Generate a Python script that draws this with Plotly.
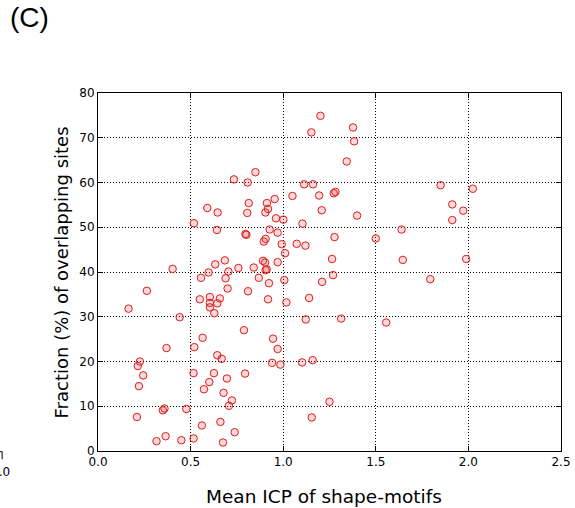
import plotly.graph_objects as go

# Mean ICP of shape-motifs per dataset, and fraction (%) of overlapping sites
mean_icp = [
    1.201, 1.377, 1.152, 1.383, 1.343, 0.850, 1.113, 1.161, 1.050, 1.194,
    1.273, 1.282, 0.954, 0.912, 0.918, 0.904, 1.208, 1.399, 0.734, 0.808,
    0.590, 0.646, 0.814, 0.806, 1.850, 2.024, 1.913, 1.972, 1.913, 1.639,
    1.646, 1.988, 1.794, 0.961, 1.001, 1.104, 0.927, 0.970, 1.277, 1.500,
    0.905, 0.895, 0.992, 1.073, 1.120, 1.010, 1.264, 0.891, 0.902, 0.970,
    0.841, 0.911, 0.905, 1.269, 1.210, 0.868, 1.006, 0.923, 1.140, 0.918,
    1.017, 1.122, 1.313, 1.556, 0.945, 0.518, 0.642, 0.796, 0.801, 0.685,
    0.633, 0.758, 0.403, 0.597, 0.704, 0.556, 0.689, 0.700, 0.810, 0.264,
    0.550, 0.604, 0.658, 0.604, 0.644, 0.604, 0.628, 0.165, 0.441, 0.788,
    0.565, 0.370, 0.520, 0.226, 0.215, 0.644, 0.668, 0.244, 0.516, 0.626,
    0.794, 0.696, 0.601, 0.221, 0.572, 0.678, 0.723, 0.707, 0.359, 0.350,
    0.477, 0.210, 0.661, 0.561, 0.738, 0.365, 0.516, 0.316, 0.450, 0.675,
    0.970, 0.940, 0.985, 1.102, 1.159, 1.250, 1.154,
]
overlap_pct = [
    74.9, 72.3, 71.2, 69.2, 64.7, 62.3, 59.6, 59.6, 57.0, 57.1,
    57.6, 57.9, 56.3, 55.4, 54.1, 53.3, 53.8, 52.6, 60.7, 60.0,
    54.3, 53.3, 55.4, 53.2, 59.4, 58.6, 55.1, 53.7, 51.6, 49.5,
    42.7, 42.9, 38.4, 52.0, 51.7, 50.8, 49.5, 48.8, 47.8, 47.5,
    47.4, 46.8, 46.2, 46.3, 45.9, 44.2, 42.9, 42.5, 42.1, 42.2,
    41.0, 40.6, 40.4, 39.3, 37.8, 38.7, 38.2, 37.5, 34.2, 33.9,
    33.2, 29.4, 29.6, 28.7, 25.1, 50.9, 49.4, 48.5, 48.3, 42.6,
    41.7, 40.9, 40.7, 39.9, 40.1, 38.7, 38.6, 36.3, 35.7, 35.8,
    33.9, 34.4, 34.1, 33.1, 33.0, 32.1, 30.8, 31.8, 29.9, 27.0,
    25.3, 23.0, 23.2, 20.0, 19.0, 21.4, 20.6, 16.9, 17.4, 17.4,
    17.3, 16.2, 15.4, 14.5, 13.8, 13.0, 11.3, 10.1, 9.5, 9.1,
    9.4, 7.6, 6.5, 5.7, 4.2, 3.3, 2.8, 2.2, 2.4, 1.9,
    22.8, 19.7, 19.3, 19.8, 20.3, 11.0, 7.5,
]

x_ticks = [0.0, 0.5, 1.0, 1.5, 2.0, 2.5]
y_ticks = [0, 10, 20, 30, 40, 50, 60, 70, 80]

fig = go.Figure()
fig.add_trace(go.Scatter(
    x=mean_icp, y=overlap_pct, mode="markers",
    marker=dict(size=7.5, color="rgba(240,60,60,0.2)",
                line=dict(color="rgb(218,30,30)", width=1)),
    showlegend=False, cliponaxis=False,
))

axis_common = dict(
    showline=True, linecolor="black", linewidth=1, mirror="allticks",
    ticks="inside", ticklen=5, tickwidth=1, tickcolor="black",
    showgrid=True, gridcolor="black", gridwidth=1, griddash="1px,2px",
    zeroline=False, automargin=False,
    tickfont=dict(family="DejaVu Sans", size=12, color="black"),
)

fig.update_xaxes(range=[0, 2.5], tickvals=x_ticks,
                 ticktext=[f"{v:.1f}" for v in x_ticks], **axis_common)
fig.update_yaxes(range=[0, 80], tickvals=y_ticks,
                 ticktext=[str(v) for v in y_ticks], **axis_common)

fig.update_layout(
    width=575, height=508, autosize=False,
    margin=dict(l=98, r=14, t=93, b=57, autoexpand=False),
    plot_bgcolor="white", paper_bgcolor="white",
    font=dict(family="DejaVu Sans", color="black"),
    annotations=[
        dict(text="(C)", xref="paper", yref="paper", x=-0.194, y=1.211,
             xanchor="left", yanchor="middle", showarrow=False,
             font=dict(family="Liberation Sans", size=28, color="black")),
        dict(text="Mean ICP of shape-motifs", xref="paper", yref="paper",
             x=0.488, y=-0.128, xanchor="center", yanchor="middle",
             showarrow=False, font=dict(family="DejaVu Sans", size=18.5)),
        dict(text="Fraction (%) of overlapping sites", xref="paper",
             yref="paper", x=-0.079, y=0.5, xanchor="center",
             yanchor="middle", textangle=-90, showarrow=False,
             font=dict(family="DejaVu Sans", size=18)),
        # edge of the neighbouring panel's tick label
        dict(text="0.0", xref="paper", yref="paper", x=-0.1855, y=-0.06,
             xanchor="right", yanchor="middle", showarrow=False,
             font=dict(family="DejaVu Sans", size=12)),
    ],
    shapes=[
        dict(type="path", xref="paper", yref="paper",
             path="M -0.215 -0.002 L -0.207 -0.002 L -0.207 -0.023",
             line=dict(color="black", width=1)),
    ],
)

fig.write_html("out.html")
